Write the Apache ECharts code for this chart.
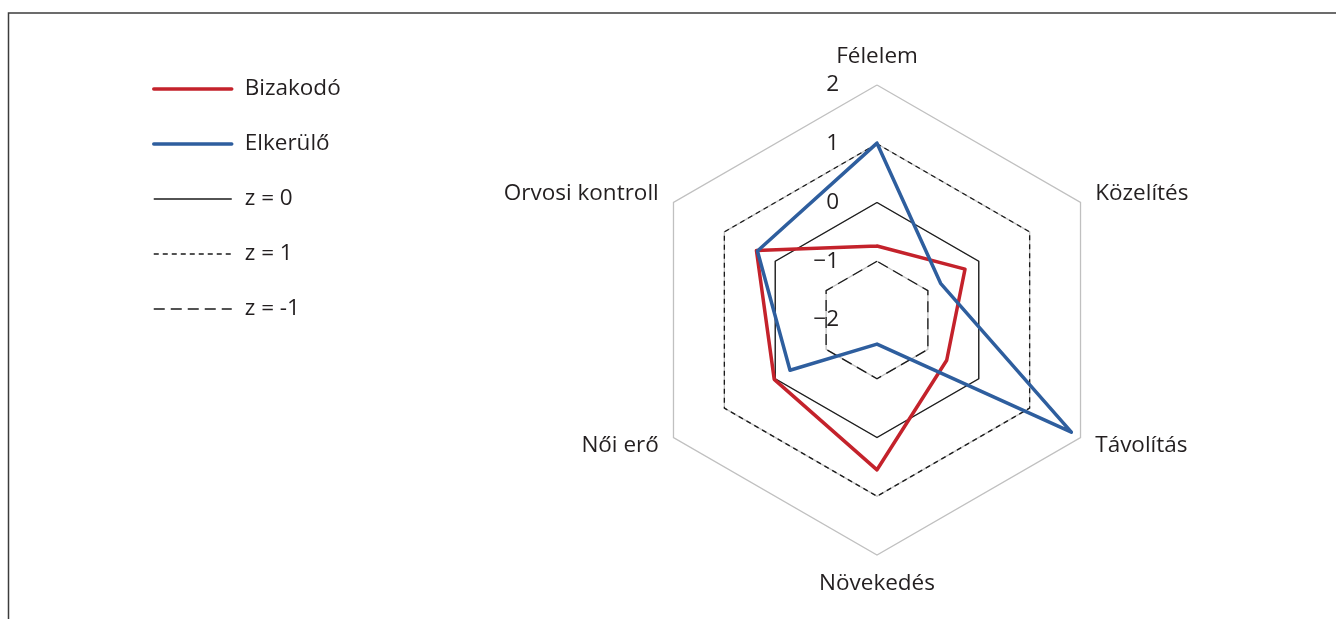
<!DOCTYPE html>
<html>
<head>
<meta charset="utf-8">
<script src="https://cdn.jsdelivr.net/npm/echarts@6/dist/echarts.min.js"></script>
<style>
  html, body { margin: 0; padding: 0; background: #fff; }
  #chart { width: 1336px; height: 619px; }
</style>
</head>
<body>
<div id="chart"></div>
<script>
// Radar of z-scores: two groups plus reference rings at z = 0, 1, -1.
// Indicators listed counter-clockwise from the top (ECharts radar order).
const indicators = ['Félelem', 'Orvosi kontroll', 'Női erő', 'Növekedés', 'Távolítás', 'Közelítés'];
const bizakodo = [-0.74, 0.37, 0.02, 0.55, -0.63, -0.27];
const elkerulo = [1.01, 0.35, -0.29, -1.59, 1.82, -0.75];
const zZero = [0, 0, 0, 0, 0, 0];
const zOne = [1, 1, 1, 1, 1, 1];
const zMinusOne = [-1, -1, -1, -1, -1, -1];
const axisMin = -2;
const axisMax = 2;

const FONT = 'Open Sans';
const FONT_SIZE = 22.5;
const TEXT = '#231f20';

// legend icon: horizontal stroke, padded vertically so the path box is 78x8
const LINE_ICON = 'path://M0,0M0,8M0,4L78,4';

const chart = echarts.init(document.getElementById('chart'), null, { renderer: 'canvas' });

function ring(name, values, dash) {
  return {
    name: name,
    type: 'radar',
    symbol: 'none',
    silent: true,
    z: 2,
    lineStyle: { color: '#1a1a1a', width: 1.3, type: dash },
    data: [{ name: name, value: values }],
  };
}

function group(name, values, color) {
  return {
    name: name,
    type: 'radar',
    symbol: 'none',
    z: 3,
    lineStyle: { color: color, width: 3.5, cap: 'round', join: 'round' },
    data: [{ name: name, value: values }],
  };
}

function legendItem(name, color, width, dash) {
  return {
    name: name,
    icon: LINE_ICON,
    itemStyle: {
      color: 'transparent',
      borderColor: color,
      borderWidth: width,
      borderType: dash,
      borderCap: width > 2 ? 'round' : 'butt',
    },
  };
}

chart.setOption({
  backgroundColor: '#fff',
  animation: false,
  textStyle: { fontFamily: FONT },
  graphic: [{
    type: 'rect',
    shape: { x: 8.5, y: 13, width: 1340, height: 700 },
    style: { fill: 'none', stroke: '#3c3c3c', lineWidth: 1.5 },
    silent: true,
  }],
  legend: {
    orient: 'vertical',
    left: 147,
    top: 72,
    itemWidth: 78,
    itemHeight: 8,
    itemGap: 31,
    textStyle: { fontSize: FONT_SIZE, lineHeight: 24, color: TEXT, fontFamily: FONT, padding: [0, 0, 0, 8] },
    data: [
      legendItem('Bizakodó', '#c4222b', 3.5, 'solid'),
      legendItem('Elkerülő', '#2e5e9e', 3.5, 'solid'),
      legendItem('z = 0', '#1a1a1a', 1.3, 'solid'),
      legendItem('z = 1', '#1a1a1a', 1.3, [5, 4]),
      legendItem('z = -1', '#1a1a1a', 1.3, [11, 6]),
    ],
  },
  radar: {
    center: [877, 320],
    radius: 235,
    startAngle: 90,
    shape: 'polygon',
    splitNumber: 4,
    nameGap: 17,
    axisName: { color: TEXT, fontSize: FONT_SIZE, fontFamily: FONT },
    axisLine: { show: false },
    axisTick: { show: false },
    splitArea: { show: false },
    splitLine: { lineStyle: { color: '#c0c0c0', width: 1.3 } },
    axisLabel: {
      show: true,
      color: TEXT,
      fontSize: FONT_SIZE,
      fontFamily: FONT,
      margin: 38,
      formatter: (v) => (v < 0 ? '\u2212' + Math.abs(v) : String(v)),
    },
    indicator: indicators.map((name, i) => {
      const ind = { name: name, min: axisMin, max: axisMax };
      if (i > 0) ind.axisLabel = { show: false };
      return ind;
    }),
  },
  series: [
    ring('z = 0', zZero, 'solid'),
    ring('z = 1', zOne, [5, 4]),
    ring('z = -1', zMinusOne, [11, 6]),
    group('Bizakodó', bizakodo, '#c4222b'),
    group('Elkerülő', elkerulo, '#2e5e9e'),
  ],
});
</script>
</body>
</html>
